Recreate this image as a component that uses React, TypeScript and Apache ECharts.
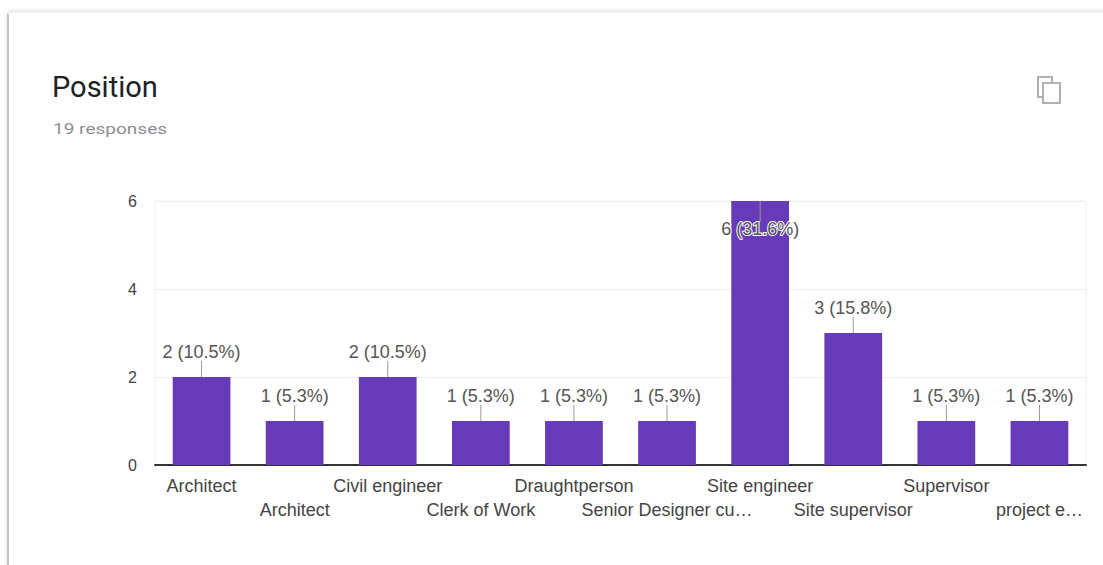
import React, { useEffect, useRef } from "react";
import * as echarts from "echarts";

const categories = [
  "Architect",
  "Architect",
  "Civil engineer",
  "Clerk of Work",
  "Draughtperson",
  "Senior Designer cu…",
  "Site engineer",
  "Site supervisor",
  "Supervisor",
  "project e…",
];
const counts = [2, 1, 2, 1, 1, 1, 6, 3, 1, 1];
const yTicks = [0, 2, 4, 6];
const titleText = "Position";
const subtitleText = "19 responses";

export default function App() {
  const ref = useRef<HTMLDivElement>(null);
  useEffect(() => {
    if (!ref.current) return;
    const chart = echarts.init(ref.current, null, { renderer: "svg" });
    const total = counts.reduce((a, b) => a + b, 0);
    const maxV = yTicks[yTicks.length - 1];
    const labelFont = "Liberation Sans, Arial, sans-serif";
    chart.setOption({
      animation: false,
      backgroundColor: "#ffffff",
      graphic: [
        {
          type: "rect",
          z: -10,
          shape: { x: 8, y: 12, width: 1110, height: 570 },
          style: {
            fill: "#ffffff",
            stroke: "#e6e6e6",
            lineWidth: 1,
            shadowBlur: 4,
            shadowColor: "rgba(0,0,0,0.18)",
          },
        },
        {
          type: "line",
          z: -9,
          shape: { x1: 8, y1: 14, x2: 8, y2: 565 },
          style: { stroke: "#c4c4c4", lineWidth: 2 },
        },
        {
          type: "text",
          x: 52,
          y: 87,
          style: {
            text: titleText,
            font: "400 29px Roboto, Arial, sans-serif",
            fill: "#202124",
            verticalAlign: "middle",
          },
        },
        {
          type: "text",
          x: 53,
          y: 129,
          scaleX: 1.27,
          style: {
            text: subtitleText,
            font: "400 15px Roboto, Arial, sans-serif",
            fill: "#8a8e93",
            verticalAlign: "middle",
          },
        },
        {
          type: "rect",
          shape: { x: 1038, y: 77, width: 14, height: 20 },
          style: { fill: "none", stroke: "#b0b0b0", lineWidth: 2 },
        },
        {
          type: "rect",
          shape: { x: 1043, y: 83, width: 17, height: 20 },
          style: { fill: "#ffffff", stroke: "#b0b0b0", lineWidth: 2 },
        },
      ],
      grid: {
        left: 155,
        right: 17,
        top: 201,
        bottom: 100,
        show: true,
        borderColor: "#f2f2f2",
        borderWidth: 1,
      },
      xAxis: {
        type: "category",
        data: categories,
        axisTick: { show: false },
        axisLine: { lineStyle: { color: "#333333", width: 2 } },
        axisLabel: {
          interval: 0,
          margin: 9,
          color: "#444444",
          fontSize: 18,
          fontFamily: labelFont,
          lineHeight: 24,
          formatter: (v: string, i: number) => (i % 2 ? "\n" + v : v),
        },
      },
      yAxis: {
        type: "value",
        min: 0,
        max: maxV,
        interval: 2,
        axisLine: { show: false },
        axisTick: { show: false },
        splitLine: { lineStyle: { color: "#f0f0f0", width: 1 } },
        axisLabel: {
          margin: 18,
          color: "#444444",
          fontSize: 16,
          fontFamily: labelFont,
        },
      },
      series: [
        {
          type: "bar",
          data: counts,
          barWidth: "62%",
          itemStyle: { color: "#673ab7" },
          z: 2,
        },
        {
          type: "custom",
          z: 5,
          data: counts.map((v, i) => [i, v]),
          renderItem: (params: any, api: any) => {
            const idx = api.value(0);
            const v = api.value(1);
            const p = api.coord([idx, v]);
            const pct = ((v / total) * 100).toFixed(1);
            const txt = `${v} (${pct}%)`;
            const inside = v >= maxV;
            const lineY1 = inside ? p[1] : p[1] - 16;
            const lineY2 = inside ? p[1] + 21 : p[1];
            const ty = inside ? p[1] + 28 : p[1] - 25;
            return {
              type: "group",
              children: [
                {
                  type: "line",
                  shape: { x1: p[0], y1: lineY1, x2: p[0], y2: lineY2 },
                  style: { stroke: "#999999", lineWidth: 1 },
                },
                {
                  type: "text",
                  x: p[0],
                  y: ty,
                  style: {
                    text: txt,
                    align: "center",
                    verticalAlign: "middle",
                    font: `18px ${labelFont}`,
                    fill: "#555555",
                    stroke: inside ? "#ffffff" : undefined,
                    lineWidth: inside ? 2 : 0,
                  },
                },
              ],
            };
          },
        },
      ],
    });
    return () => chart.dispose();
  }, []);
  return (
    <div
      ref={ref}
      style={{ position: "fixed", left: 0, top: 0, width: 1103, height: 565 }}
    />
  );
}
